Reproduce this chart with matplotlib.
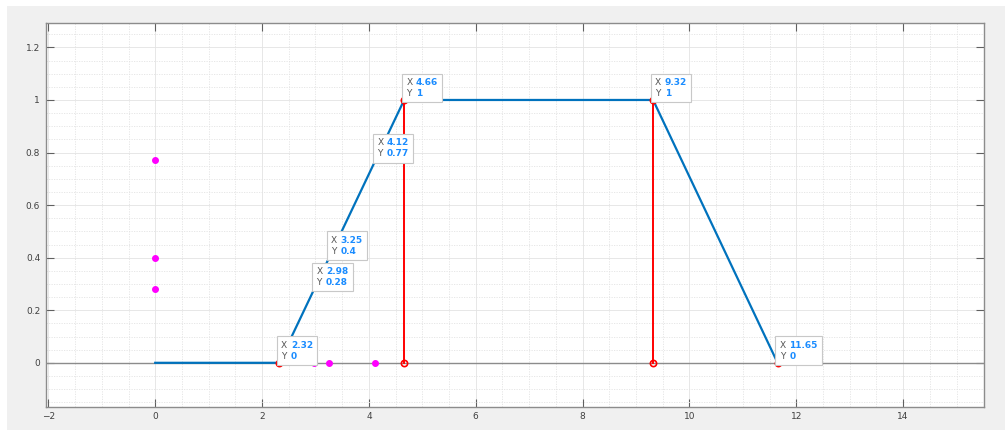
import matplotlib
matplotlib.use('Agg')
import matplotlib.pyplot as plt
from matplotlib.offsetbox import TextArea, HPacker, VPacker, AnnotationBbox
from matplotlib.patches import Rectangle

# membership function (trapezoid)
line_x = [0, 2.32, 4.66, 9.32, 11.65, 12]
line_y = [0, 0, 1, 1, 0, 0]

# red stems
stem_x = [4.66, 9.32]
stem_y = [1, 1]

# red circles
circ_x = [2.32, 4.66, 4.66, 9.32, 9.32, 11.65]
circ_y = [0, 0, 1, 0, 1, 0]

# magenta points
mag_y_on_axis = [0.77, 0.4, 0.28]
mag_x_on_axis = [2.98, 3.25, 4.12]

# data tips
tip_x = [2.32, 2.98, 3.25, 4.12, 4.66, 9.32, 11.65]
tip_y = [0, 0.28, 0.4, 0.77, 1, 1, 0]
tip_xl = ['2.32', '2.98', '3.25', '4.12', '4.66', '9.32', '11.65']
tip_yl = ['0', '0.28', '0.4', '0.77', '1', '1', '0']

fig = plt.figure(figsize=(10.05, 4.3), dpi=100, facecolor='white')
fig.patches.append(Rectangle((7 / 1005, 0), 1, 1 - 6 / 430, transform=fig.transFigure,
                             facecolor='#f0f0f0', edgecolor='none', zorder=-10))
ax = fig.add_axes([45.7 / 1005, 1 - 406.7 / 430, (984.3 - 45.7) / 1005, (406.7 - 22.7) / 430])
ax.set_facecolor('white')

ax.set_xlim(-2.05, 15.52)
ax.set_ylim(-0.167, 1.294)
ax.set_xticks(range(-2, 15, 2))
ax.set_yticks([0, 0.2, 0.4, 0.6, 0.8, 1, 1.2])
ax.set_yticklabels(['0', '0.2', '0.4', '0.6', '0.8', '1', '1.2'])
ax.set_xticks([x / 2 for x in range(-4, 31)], minor=True)
ax.set_yticks([y / 20 for y in range(-3, 26)], minor=True)

ax.grid(True, which='major', color='#e3e3e3', lw=0.6, ls='-')
ax.grid(True, which='minor', color='#e3e3e3', lw=0.6, ls=(0, (1.5, 1.5)))
ax.set_axisbelow(True)
ax.tick_params(which='major', direction='in', length=6, width=0.8, color='#606060',
               top=True, right=True, labelsize=6.5, labelcolor='#404040', pad=4)
ax.tick_params(which='minor', length=0)
for s in ax.spines.values():
    s.set_color('#8c8c8c')
    s.set_linewidth(1.0)

ax.axhline(0, color='#8c8c8c', lw=1.0, zorder=1)

ax.plot(line_x, line_y, color='#0072BD', lw=1.6, zorder=3)
for sx, sy in zip(stem_x, stem_y):
    ax.plot([sx, sx], [0, sy], color='#ff0000', lw=1.4, zorder=4)
ax.plot(circ_x, circ_y, 'o', ms=4.5, mfc='none', mec='#ff0000', mew=1.2, zorder=5)
ax.plot([0] * len(mag_y_on_axis), mag_y_on_axis, 'o', ms=4, color='#ff00ff', zorder=5)
ax.plot(mag_x_on_axis, [0] * len(mag_x_on_axis), 'o', ms=4, color='#ff00ff', zorder=5)
ax.plot(tip_x, tip_y, 'o', ms=1.8, color='black', zorder=6)

for x, y, xl, yl in zip(tip_x, tip_y, tip_xl, tip_yl):
    labs = VPacker(children=[TextArea(t, textprops=dict(color='#555555', fontsize=6.5))
                             for t in ('X', 'Y')], align='left', pad=0, sep=1.5)
    vals = VPacker(children=[TextArea(t, textprops=dict(color='#1a8cff', fontsize=6.5,
                                                        fontweight='bold'))
                             for t in (xl, yl)], align='left', pad=0, sep=1.5)
    box = HPacker(children=[labs, vals], align='top', pad=0, sep=2.5)
    ab = AnnotationBbox(box, (x, y), xybox=(1.5, 1.5), xycoords='data',
                        boxcoords='offset points', box_alignment=(0, 0), pad=0.45,
                        frameon=True,
                        bboxprops=dict(facecolor='white', edgecolor='#c8c8c8', lw=0.8,
                                       boxstyle='square'))
    ab.set_zorder(7)
    ax.add_artist(ab)

fig.savefig('out.png', dpi=100, facecolor=fig.get_facecolor())
